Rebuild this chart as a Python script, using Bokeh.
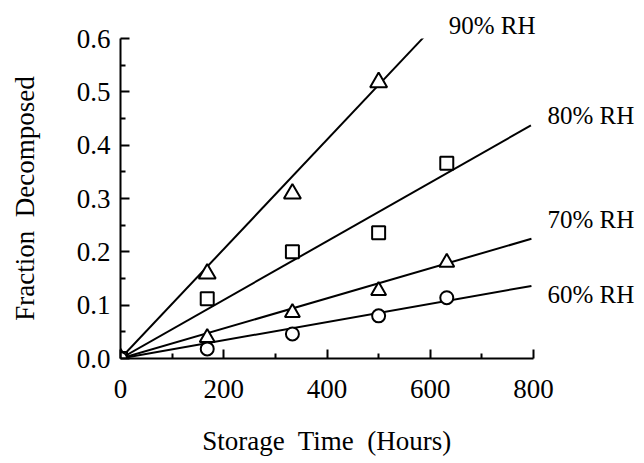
from bokeh.plotting import figure
from bokeh.models import (Range1d, FixedTicker, PrintfTickFormatter, LinearAxis)
from bokeh.embed import file_html
from bokeh.resources import INLINE

# ---- data ----
hours_90 = [0, 168, 333, 500]
frac_90 = [0.0, 0.159, 0.309, 0.518]

hours_all = [0, 168, 333, 500, 632]
frac_80 = [0.0, 0.112, 0.200, 0.236, 0.366]
frac_70 = [0.0, 0.039, 0.086, 0.127, 0.180]
frac_60 = [0.0, 0.018, 0.046, 0.080, 0.114]

series_names = ["90% RH", "80% RH", "70% RH", "60% RH"]
# fitted lines (from origin to end point)
fit_end_hours = [587, 795, 796, 796]
fit_end_frac = [0.602, 0.437, 0.2245, 0.136]

x_ticks = [0, 200, 400, 600, 800]
x_minor = [100, 300, 500, 700]
y_ticks = [0.0, 0.1, 0.2, 0.3, 0.4, 0.5, 0.6]
y_minor = [0.05, 0.15, 0.25, 0.35, 0.45, 0.55]

FONT = "Liberation Serif"

p = figure(width=640, height=458,
           x_range=Range1d(x_ticks[0], x_ticks[-1]),
           y_range=Range1d(y_ticks[0], y_ticks[-1]),
           output_backend="svg", toolbar_location=None,
           min_border_left=120, min_border_right=107,
           min_border_top=38, min_border_bottom=100)
p.outline_line_color = None
p.xgrid.visible = False
p.ygrid.visible = False
p.background_fill_color = "white"
p.border_fill_color = "white"

p.xaxis.ticker = FixedTicker(ticks=x_ticks, minor_ticks=x_minor)
p.yaxis.ticker = FixedTicker(ticks=y_ticks, minor_ticks=y_minor)
p.yaxis.formatter = PrintfTickFormatter(format="%.1f")

for ax in (p.xaxis[0], p.yaxis[0]):
    ax.axis_line_width = 2
    ax.axis_line_color = "black"
    ax.major_tick_line_width = 2
    ax.minor_tick_line_width = 2
    ax.major_tick_line_color = "black"
    ax.minor_tick_line_color = "black"
    ax.major_tick_in = 9
    ax.major_tick_out = 0
    ax.minor_tick_in = 5
    ax.minor_tick_out = 0
    ax.major_label_text_font = FONT
    ax.major_label_text_color = "black"
    ax.axis_label_text_font = FONT
    ax.axis_label_text_font_style = "normal"
    ax.axis_label_text_color = "black"

p.xaxis.major_label_text_font_size = "27px"
p.yaxis.major_label_text_font_size = "27px"
p.xaxis.major_label_standoff = 21
p.yaxis.major_label_standoff = 10

p.xaxis.axis_label = "Storage\u00a0 Time\u00a0 (Hours)"
p.yaxis.axis_label = "Fraction\u00a0 Decomposed"
p.xaxis.axis_label_text_font_size = "27px"
p.yaxis.axis_label_text_font_size = "27px"
p.xaxis.axis_label_standoff = 25
p.yaxis.axis_label_standoff = 34

# fitted lines
for xe, ye in zip(fit_end_hours, fit_end_frac):
    p.line([0, xe], [0, ye], line_color="black", line_width=2)

# data markers
p.scatter(hours_90, frac_90, marker="triangle", size=17,
          line_color="black", line_width=2, fill_color="white")
p.scatter(hours_all, frac_80, marker="square", size=13,
          line_color="black", line_width=2, fill_color="white")
p.scatter(hours_all, frac_70, marker="triangle", size=15,
          line_color="black", line_width=2, fill_color="white")
p.scatter(hours_all, frac_60, marker="circle", size=13,
          line_color="black", line_width=2, fill_color="white")

# curve labels, drawn as tick labels of unlined side axes
top_label_x = [720]                   # 90% RH (above the frame)
side_label_y = [0.455, 0.260, 0.120]  # 80%, 70%, 60% RH (right of frame)


def label_axis(ax, standoff):
    ax.axis_line_color = None
    ax.major_tick_line_color = None
    ax.minor_tick_line_color = None
    ax.major_tick_in = 0
    ax.major_tick_out = 0
    ax.minor_tick_in = 0
    ax.minor_tick_out = 0
    ax.major_label_standoff = standoff
    ax.major_label_text_font = FONT
    ax.major_label_text_font_size = "25px"
    ax.major_label_text_color = "black"
    return ax


top_axis = label_axis(LinearAxis(
    ticker=FixedTicker(ticks=top_label_x, minor_ticks=[]),
    major_label_overrides={top_label_x[0]: series_names[0]}), 0)
right_axis = label_axis(LinearAxis(
    ticker=FixedTicker(ticks=side_label_y, minor_ticks=[]),
    major_label_overrides={v: n for v, n in zip(side_label_y, series_names[1:])}), 14)
p.add_layout(top_axis, "above")
p.add_layout(right_axis, "right")

open("out.html", "w").write(file_html(p, INLINE))
